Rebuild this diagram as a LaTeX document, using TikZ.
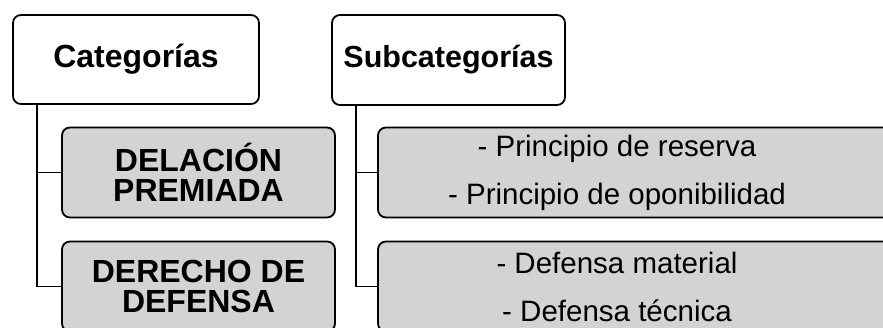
\documentclass[tikz,border=0pt]{standalone}
\usepackage{fontspec}
\setmainfont{Liberation Sans}
\definecolor{boxgray}{HTML}{D3D3D3}
\begin{document}
\begin{tikzpicture}[x=1pt,y=-1pt,
  headbox/.style={draw=black,line width=1.8pt,rounded corners=8pt,fill=white,inner sep=0pt,
    font=\fontsize{32}{30}\selectfont\bfseries,align=center},
  catbox/.style={draw=black,line width=1.8pt,rounded corners=8pt,fill=boxgray,inner sep=0pt,
    font=\fontsize{32}{30}\selectfont\bfseries,align=center},
  subbox/.style={draw=black,line width=1.8pt,rounded corners=8pt,fill=boxgray,inner sep=0pt},
  subtext/.style={inner sep=0pt,font=\fontsize{29.5}{48}\selectfont,align=center},
  link/.style={draw=black,line width=1.8pt}]
\useasboundingbox (0,0) rectangle (883,327);
\clip (0,0) rectangle (883,327);
% headers
\node[headbox,minimum width=246pt,minimum height=89pt] (cat) at (136,59.5) {Categorías};
\node[headbox,minimum width=233pt,minimum height=90pt,font=\fontsize{30.5}{30}\selectfont\bfseries] (sub) at (448.5,60) {Subcategorías};
% categories
\node[catbox,minimum width=273pt,minimum height=90pt] (del) at (198.5,172.5) {DELACIÓN\\PREMIADA};
\node[catbox,minimum width=273pt,minimum height=90pt] (der) at (198.5,286.5) {DERECHO DE\\DEFENSA};
% subcategories
\node[subbox,minimum width=542pt,minimum height=90pt] (p1) at (649,172.5) {};
\node[subbox,minimum width=542pt,minimum height=90pt] (p2) at (649,286.5) {};
\node[subtext] (t1) at (617,173) {- Principio de reserva\\- Principio de oponibilidad};
\node[subtext] (t2) at (617,287) {- Defensa material\\- Defensa técnica};
% connectors
\coordinate (lv) at (37,0);
\coordinate (rv) at (356,0);
\draw[link] (cat.south -| lv) |- (del.west);
\draw[link] (cat.south -| lv) |- (der.west);
\draw[link] (sub.south -| rv) |- (p1.west);
\draw[link] (sub.south -| rv) |- (p2.west);
\end{tikzpicture}
\end{document}
